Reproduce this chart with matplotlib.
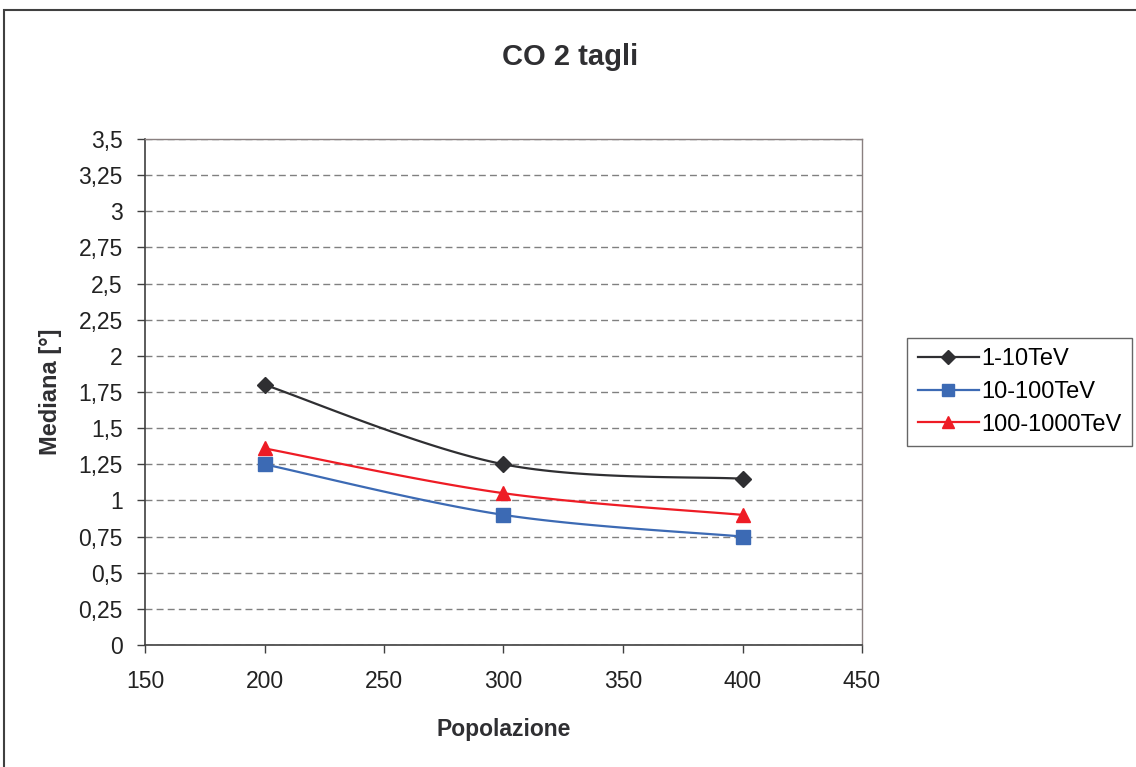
import matplotlib.pyplot as plt
import numpy as np
from matplotlib.patches import Rectangle
from matplotlib.ticker import FuncFormatter

plt.rcParams['font.family'] = ['Liberation Sans', 'DejaVu Sans']

popolazione = [200, 300, 400]
mediana_1_10 = [1.8, 1.25, 1.15]
mediana_10_100 = [1.25, 0.9, 0.75]
mediana_100_1000 = [1.36, 1.05, 0.9]
series_labels = ['1-10TeV', '10-100TeV', '100-1000TeV']


def smooth_curve(ax, xs, ys, n=40):
    # Excel-like smoothed line: Bezier segments built in display space
    pts = ax.transData.transform(np.column_stack([xs, ys]))
    out = [pts[0]]
    for i in range(len(pts) - 1):
        p0 = pts[i - 1] if i > 0 else pts[i]
        p1 = pts[i]
        p2 = pts[i + 1]
        p3 = pts[i + 2] if i + 2 < len(pts) else pts[i + 1]
        c1 = p1 + (p2 - p0) / 6.0
        c2 = p2 - (p3 - p1) / 6.0
        t = np.linspace(0, 1, n)[1:, None]
        seg = ((1 - t) ** 3) * p1 + 3 * ((1 - t) ** 2) * t * c1 + 3 * (1 - t) * t ** 2 * c2 + t ** 3 * p2
        out.extend(seg)
    out = np.array(out)
    return ax.transData.inverted().transform(out).T


fig = plt.figure(figsize=(11.36, 7.67), dpi=100)
fig.patches.append(Rectangle((4 / 1136, -0.1), 1.2, 1 - 10 / 767 + 0.1, transform=fig.transFigure,
                             fill=False, edgecolor='#404040', linewidth=1.5))

ax = fig.add_axes([145 / 1136, 1 - 645 / 767, (862 - 145) / 1136, (645 - 139) / 767])
ax.set_xlim(150, 450)
ax.set_ylim(0, 3.5)
ax.set_xticks(np.arange(150, 451, 50))
ax.set_yticks(np.arange(0, 3.51, 0.25))
ax.yaxis.set_major_formatter(FuncFormatter(lambda v, p: ('%g' % v).replace('.', ',')))
ax.tick_params(direction='out', length=6, width=1, color='#404040', labelsize=16.5, labelcolor='#222222')
ax.tick_params(axis='x', pad=12)
ax.tick_params(axis='y', pad=10)
ax.grid(axis='y', color='#808080', linestyle=(0, (5, 3)), linewidth=1)
for s in ['left', 'bottom']:
    ax.spines[s].set_color('#404040')
    ax.spines[s].set_linewidth(1.2)
for s in ['top', 'right']:
    ax.spines[s].set_color('#8a8080')
    ax.spines[s].set_linewidth(1)

styles = [
    dict(color='#2f2f32', marker='D', markersize=8),
    dict(color='#3c6ab4', marker='s', markersize=9.5),
    dict(color='#ee1c25', marker='^', markersize=10),
]
data = [mediana_1_10, mediana_10_100, mediana_100_1000]
handles = []
for ys, st, lab in zip(data, styles, series_labels):
    cx, cy = smooth_curve(ax, popolazione, ys)
    ax.plot(cx, cy, color=st['color'], linewidth=1.6, zorder=3)
    ax.plot(popolazione, ys, linestyle='none', marker=st['marker'], markersize=st['markersize'],
            color=st['color'], markeredgecolor=st['color'], zorder=4, clip_on=False)
    h, = ax.plot([], [], color=st['color'], linewidth=1.6, marker=st['marker'],
                 markersize=st['markersize'] * 0.9, label=lab)
    handles.append(h)

leg = fig.legend(handles=handles, loc='center left', bbox_to_anchor=(907 / 1136, 1 - 392 / 767),
                 fontsize=17, frameon=True, fancybox=False, handlelength=2.6, handletextpad=0.1,
                 borderpad=0.45, labelspacing=0.45, borderaxespad=0)
leg.get_frame().set_edgecolor('#404040')
leg.get_frame().set_linewidth(1)

fig.text(570 / 1136, 1 - 57 / 767, 'CO 2 tagli', ha='center', va='center', fontsize=21,
         fontweight='bold', color='#2f2f32')
ax.set_xlabel('Popolazione', fontsize=16.5, fontweight='bold', color='#2f2f32', labelpad=18)
ax.set_ylabel('Mediana [°]', fontsize=17, fontweight='bold', color='#2f2f32', labelpad=12)

fig.savefig('out.png', dpi=100)
